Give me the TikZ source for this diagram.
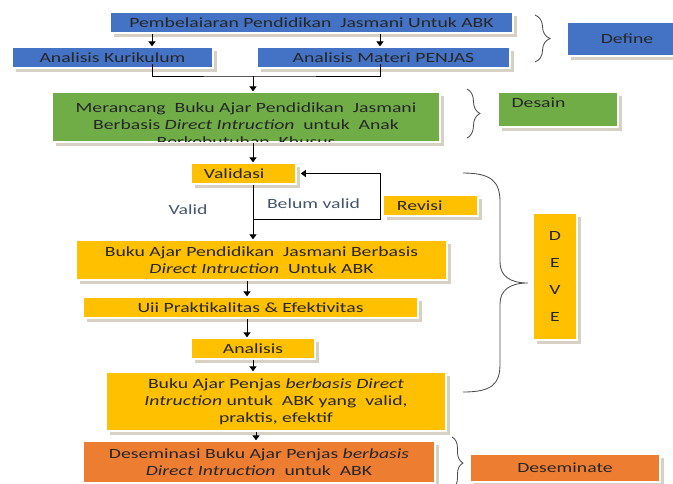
\documentclass[tikz,border=0pt]{standalone}
\usepackage{fontspec}
\setmainfont{Carlito}[FakeStretch=1.4]
\usetikzlibrary{arrows.meta,shadows,decorations.pathreplacing}

\definecolor{bluebox}{HTML}{4472C4}
\definecolor{greenbox}{HTML}{70AD47}
\definecolor{goldbox}{HTML}{FFC000}
\definecolor{orangebox}{HTML}{ED7D31}
\definecolor{shadowc}{HTML}{D6D1C4}
\definecolor{slate}{HTML}{44546A}

\begin{document}
\begin{tikzpicture}[
  x=0.025cm, y=-0.025cm,
  font=\fontsize{10}{12.1}\selectfont,
  box/.style={rectangle, draw=white, line width=1pt, inner sep=0pt,
              align=center, text=black!85,
              drop shadow={shadow xshift=3pt, shadow yshift=-3pt,
                           fill=shadowc, opacity=1}},
  bbox/.style={box, fill=bluebox},
  gbox/.style={box, fill=greenbox},
  ybox/.style={box, fill=goldbox},
  obox/.style={box, fill=orangebox},
  arr/.style={-{Triangle[length=3.5pt,width=5pt]}, line width=0.7pt},
  brc/.style={black!70, line width=0.6pt},
  lbl/.style={text=slate, inner sep=1pt},
]
  \clip (0,0) rectangle (673,483);

  % --- Define ---
  \node[bbox, minimum width=10.075cm, minimum height=0.525cm] (pemb) at (311.5,22.5)
    {Pembelaiaran Pendidikan\ \ Jasmani Untuk ABK};
  \node[bbox, minimum width=5.025cm, minimum height=0.525cm] (kur) at (112.5,57.5)
    {Analisis Kurikulum};
  \node[bbox, minimum width=6.325cm, minimum height=0.525cm] (mat) at (383.5,57.5)
    {Analisis Materi PENJAS};
  \node[bbox, minimum width=3cm, minimum height=0.85cm] (dfn) at (627,39) {Define};

  % --- Desain ---
  \node[gbox, minimum width=9.7cm, minimum height=1.25cm] (rancang) at (246,117) {};
  \begin{scope}
    \clip ([shift={(1pt,-1pt)}]rancang.north west)
      rectangle ([shift={(-1pt,1pt)}]rancang.south east);
    \node[text=black!85, align=center] (rancangtxt) at ([yshift=-5.6pt]rancang.center)
      {Merancang\ \ Buku Ajar Pendidikan\ \ Jasmani\\
       Berbasis \textit{Direct Intruction}\ \ untuk\ \ Anak\\
       Berkebutuhan\ \ Khusus};
  \end{scope}
  \node[gbox, minimum width=3cm, minimum height=0.875cm] (desain) at (558,109.5) {};
  \node[anchor=west, text=black!85, inner sep=0pt] (desaintxt)
    at ([xshift=10pt,yshift=4.6pt]desain.west) {Desain};

  % --- Develop ---
  \node[ybox, inner xsep=9.2pt, text width=1.975cm, align=left,
        minimum height=0.525cm] (validasi) at (243.5,173.5) {Validasi};
  \node[ybox, inner xsep=10pt, text width=1.675cm, align=left,
        minimum height=0.525cm] (revisi) at (430.5,205.5) {Revisi};
  \node[ybox, minimum width=9.275cm, minimum height=1cm] (buku1) at (261.5,260)
    {Buku Ajar Pendidikan\ \ Jasmani Berbasis\\\textit{Direct Intruction}\ \ Untuk ABK};
  \node[ybox, minimum width=8.375cm, minimum height=0.525cm] (uji) at (250.5,307.5)
    {Uii Praktikalitas \& Efektivitas};
  \node[ybox, minimum width=3.1cm, minimum height=0.525cm] (analisis) at (253,348.5)
    {Analisis};
  \node[ybox, minimum width=8.5cm, minimum height=1.475cm] (buku2) at (276,401.5)
    {Buku Ajar Penjas \textit{berbasis Direct}\\
     \textit{Intruction}\ untuk\ \ ABK yang\ \ valid,\\praktis, efektif};
  \node[ybox, minimum width=1.1cm, minimum height=3.175cm,
        font=\fontsize{10}{19.4}\selectfont] (deve) at (555,276.5) {D\\E\\V\\E};

  % --- Deseminate ---
  \node[obox, minimum width=8.8cm, minimum height=1.05cm] (desem) at (259,462)
    {Deseminasi Buku Ajar Penjas \textit{berbasis}\\\textit{Direct Intruction}\ \ untuk\ \ ABK};
  \node[obox, minimum width=4.75cm, minimum height=0.7cm] (dsm) at (565,468)
    {Deseminate};

  % --- Braces ---
  \draw[brc, decorate, decoration={brace, amplitude=10.7pt}] (535,15) -- (535,62);
  \draw[brc, decorate, decoration={brace, amplitude=9.2pt}] (467,89) -- (467,138);
  \draw[brc, decorate, decoration={brace, amplitude=7.8pt}] (452,437) -- (452,489);
  \draw[brc] (463,173) .. controls (492,173) and (500,182) .. (500,202)
    -- (500,262) .. controls (500,276) and (510,283) .. (528,283)
    .. controls (510,283) and (500,290) .. (500,304)
    -- (500,364) .. controls (500,384) and (492,392) .. (463,392);

  % --- Connectors ---
  \coordinate (ck) at (152,0);
  \coordinate (cm) at (380,0);
  \coordinate (cs) at (253,0);
  \coordinate (c1) at (247,0);
  \coordinate (c3) at (256,0);
  \coordinate (jn) at (253,76);
  \coordinate (lp) at (253,219);

  \draw[arr] (pemb.south -| ck) -- (kur.north -| ck);
  \draw[arr] (pemb.south -| cm) -- (mat.north -| cm);
  \draw[line width=0.7pt] ([yshift=3pt]kur.south -| ck) |- (jn)
    -| ([yshift=3pt]mat.south -| cm);
  \draw[arr] (jn) -- (rancang.north -| jn);
  \draw[arr] (rancang.south -| cs) -- (validasi.north -| cs);
  \draw[arr] (validasi.south -| cs) -- (buku1.north -| cs);
  \draw[arr] (lp) -| (cm |- validasi.east) -- ([xshift=3pt]validasi.east);
  \draw[arr] (buku1.south -| c1) -- (uji.north -| c1);
  \draw[arr] (uji.south -| c1) -- (analisis.north -| c1);
  \draw[arr] (analisis.south -| cs) -- (buku2.north -| cs);
  \draw[arr] (buku2.south -| c3) -- (desem.north -| c3);

  \node[lbl] (valid) at (188,210) {Valid};
  \node[lbl] (belum) at (313.5,204) {Belum valid};

\end{tikzpicture}
\end{document}
